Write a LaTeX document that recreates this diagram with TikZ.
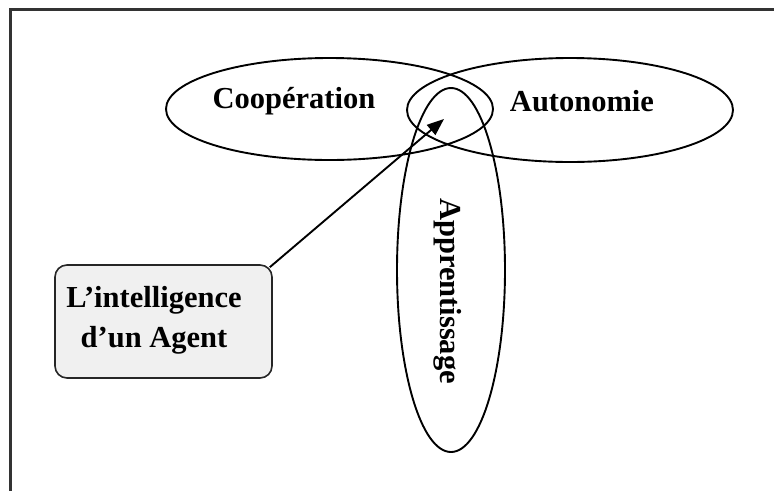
\documentclass[tikz,border=0pt]{standalone}
\usepackage{fontspec}
\setmainfont{Liberation Serif}
\usetikzlibrary{arrows.meta}
\begin{document}
\begin{tikzpicture}[x=1pt,y=-1pt,
  frameline/.style={draw=black!80,line width=2.2pt},
  ell/.style={draw=black,line width=1.9pt},
  lbl/.style={font=\fontsize{30.5}{40}\selectfont\bfseries,inner sep=0pt},
  agentbox/.style={draw=black!85,line width=1.6pt,fill=black!6,rounded corners=12pt,
     minimum width=217pt,minimum height=113pt,inner sep=0pt},
  conn/.style={draw=black,line width=1.9pt,-{Triangle[length=17pt,width=13pt]}}]
\useasboundingbox (0,0) rectangle (774,491);
% frame (only top and left edges visible)
\draw[frameline] (774,9.5) -- (10.5,9.5) -- (10.5,491);
% ellipses
\draw[ell] (329.5,109) ellipse [x radius=163.5pt, y radius=51pt];
\draw[ell] (570,110) ellipse [x radius=163pt, y radius=52pt];
\draw[ell] (451,270) ellipse [x radius=54pt, y radius=182pt];
% labels
\node[lbl] (coop) at (294,101) {Coopération};
\node[lbl] (auto) at (582,101) {Autonomie};
\node[lbl,rotate=-90] (appr) at (448,291) {Apprentissage};
% agent box
\node[agentbox] (agent) at (163.5,321.5) {};
\node[lbl,align=center] (agenttxt) at (154,320) {L’intelligence\\d’un Agent};
\coordinate (tip) at (444,119);
\coordinate (start) at ([shift={(-3,3)}]agent.north east);
\draw[conn] (start) -- (tip);
\end{tikzpicture}
\end{document}
